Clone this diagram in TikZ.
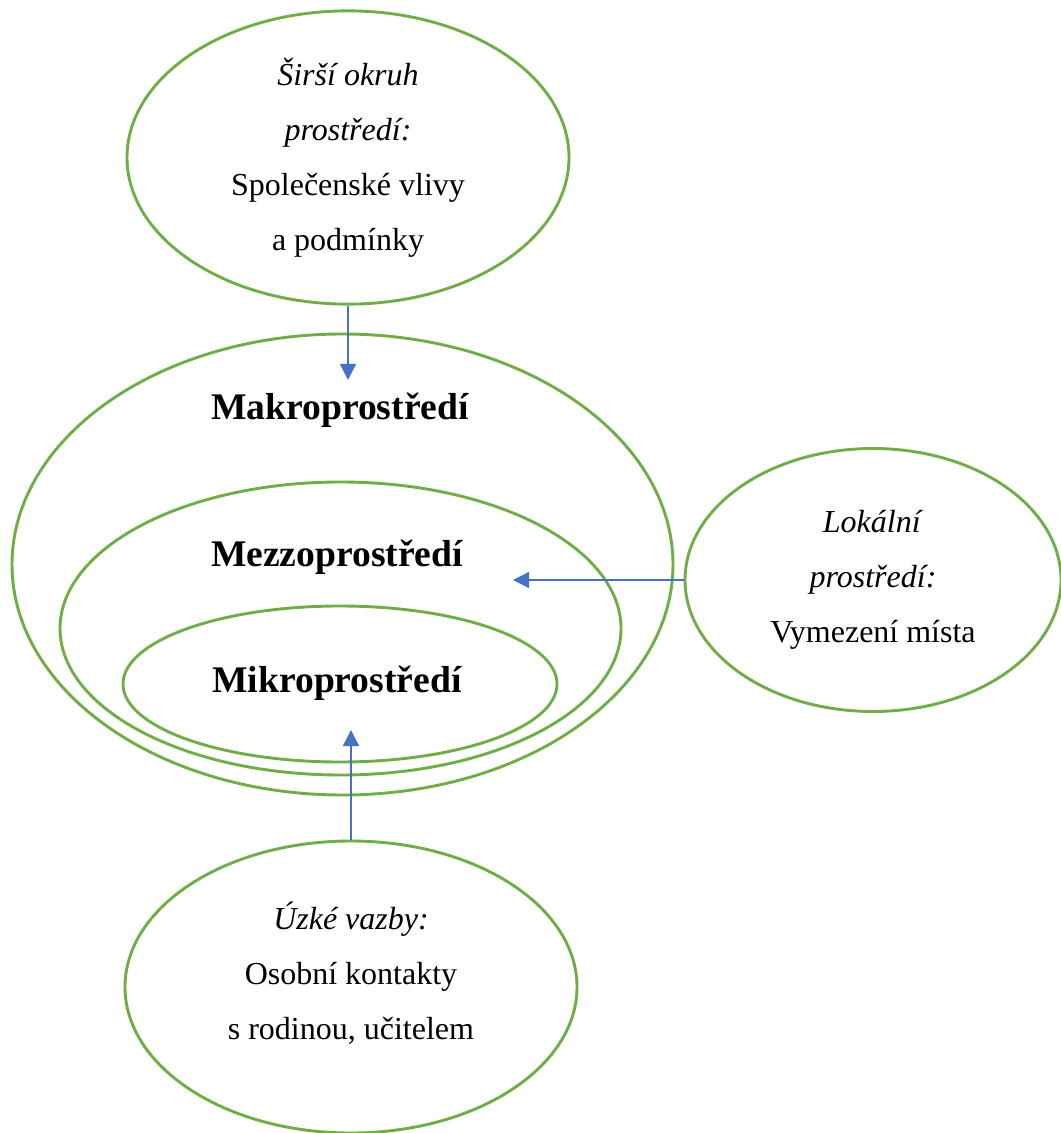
\documentclass[tikz,border=0pt]{standalone}
\usepackage{fontspec}
\setmainfont{Liberation Serif}
\usepackage{xcolor}
\usepackage{tikz}
\usetikzlibrary{shapes.geometric, arrows.meta, positioning}

\definecolor{ringgreen}{HTML}{70AD47}
\definecolor{linkblue}{HTML}{4472C4}

\begin{document}
\begin{tikzpicture}[
    x=0.5pt, y=-0.5pt,
    ringbox/.style={ellipse, draw=ringgreen, line width=1.45pt, inner sep=2pt, align=center, font=\fontsize{16}{27.5}\selectfont},
    ringtext/.style={align=center, font=\fontsize{16}{27.5}\selectfont},
    ringlabel/.style={anchor=base, font=\fontsize{18.8}{22}\selectfont\bfseries},
    arrow/.style={line width=0.75pt, -{Triangle[width=8pt,length=8pt]}, color=linkblue}
]
    \useasboundingbox (0,0) rectangle (1060,1133);

    % Nested environments
    \node (makro) [ringbox, minimum width=330.5pt, minimum height=230.5pt] at (342.5,564.5) {};
    \node (mezzo) [ringbox, minimum width=280.5pt, minimum height=146.5pt] at (340.5,628.5) {};
    \node (mikro) [ringbox, minimum width=217pt, minimum height=78pt] at (340,684) {};

    \node (makrotxt) [ringlabel] at (340,420) {Makroprostředí};
    \node (mezzotxt) [ringlabel] at (337,566) {Mezzoprostředí};
    \node (mikrotxt) [ringlabel] at (337,692) {Mikroprostředí};

    % Wider surroundings
    \node (sirsi) [ringbox, minimum width=221pt, minimum height=141pt] at (348,157.5) {
        \textit{Širší okruh}\\
        \textit{prostředí:}\\
        Společenské vlivy\\
        a podmínky
    };

    % Local surroundings
    \node (lokalni) [ringbox, minimum width=188pt, minimum height=131.5pt] at (873,580) {
        \textit{Lokální}\\
        \textit{prostředí:}\\
        Vymezení místa
    };

    % Close ties
    \node (uzke) [ringbox, minimum width=226pt, minimum height=146pt] at (351,987) {};
    \node (uzketxt) [ringtext] at (351,973) {
        \textit{Úzké vazby:}\\
        Osobní kontakty\\
        s rodinou, učitelem
    };

    % Connecting Arrows
    \coordinate (makroin) at (348,380);
    \coordinate (mezzoin) at (513,580);
    \coordinate (mikroin) at (351,730);
    \draw [arrow] (sirsi.south) -- (makroin);
    \draw [arrow] (lokalni.west) -- (mezzoin);
    \draw [arrow] (uzke.north) -- (mikroin);

\end{tikzpicture}
\end{document}
